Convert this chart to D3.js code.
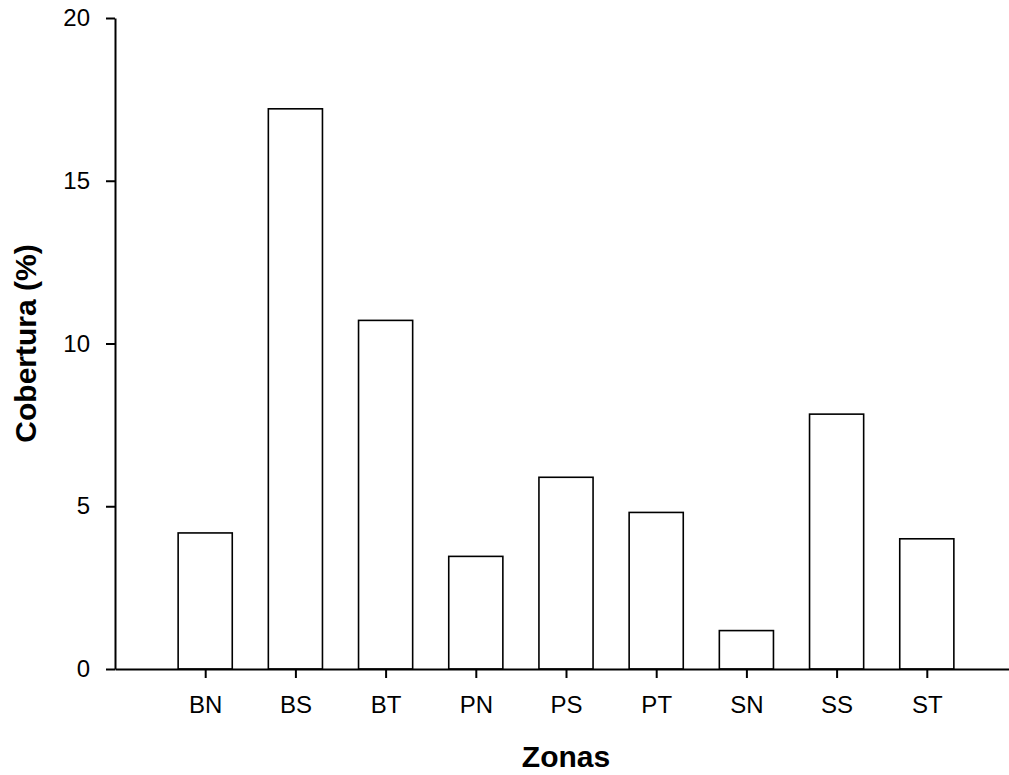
<!DOCTYPE html>
<html>
<head>
<meta charset="utf-8">
<script src="https://cdn.jsdelivr.net/npm/d3@7"></script>
<style>
  body { margin: 0; background: #fff; }
  svg text { font-family: "Liberation Sans", Arial, sans-serif; fill: #000; }
</style>
</head>
<body>
<svg id="chart" width="1009" height="775"></svg>
<script>
// zonas y cobertura
const zonas = ["BN", "BS", "BT", "PN", "PS", "PT", "SN", "SS", "ST"];
const cobertura = [4.18, 17.21, 10.71, 3.46, 5.89, 4.81, 1.18, 7.83, 4.0];
const yTicks = [0, 5, 10, 15, 20];

const svg = d3.select("#chart");
const mLeft = 115, mRight = 1017, mTop = 18, mBottom = 669;

// posiciones 1..9 en un eje lineal 0..10
const x = d3.scaleLinear().domain([0, 10]).range([mLeft, mRight]);
const y = d3.scaleLinear().domain([0, 20]).range([mBottom, mTop]);
const barW = (x(1) - x(0)) * 0.6;

svg.append("g")
  .selectAll("rect")
  .data(zonas.map((z, i) => ({ z, v: cobertura[i], pos: i + 1 })))
  .join("rect")
  .attr("x", d => x(d.pos) - barW / 2)
  .attr("y", d => y(d.v))
  .attr("width", barW)
  .attr("height", d => y(0) - y(d.v))
  .attr("fill", "#fff")
  .attr("stroke", "#000")
  .attr("stroke-width", 1.6);

const yAxis = svg.append("g")
  .attr("transform", `translate(${mLeft},0)`)
  .call(d3.axisLeft(y).tickValues(yTicks).tickSize(9).tickPadding(16).tickSizeOuter(0));

const xAxis = svg.append("g")
  .attr("transform", `translate(0,${mBottom})`)
  .call(d3.axisBottom(x).tickValues(d3.range(1, zonas.length + 1))
    .tickFormat(d => zonas[d - 1]).tickSize(9).tickPadding(18).tickSizeOuter(0));

[yAxis, xAxis].forEach(g => {
  g.select(".domain").attr("stroke-width", 2);
  g.selectAll(".tick line").attr("stroke-width", 2);
  g.selectAll(".tick text").attr("font-size", 24).attr("font-family", "Liberation Sans, Arial, sans-serif");
});

svg.append("text")
  .attr("transform", `translate(36,${(mTop + mBottom) / 2}) rotate(-90)`)
  .attr("text-anchor", "middle")
  .attr("font-size", 30)
  .attr("font-weight", "bold")
  .text("Cobertura (%)");

svg.append("text")
  .attr("x", (mLeft + mRight) / 2)
  .attr("y", 767)
  .attr("text-anchor", "middle")
  .attr("font-size", 30)
  .attr("font-weight", "bold")
  .text("Zonas");
</script>
</body>
</html>
